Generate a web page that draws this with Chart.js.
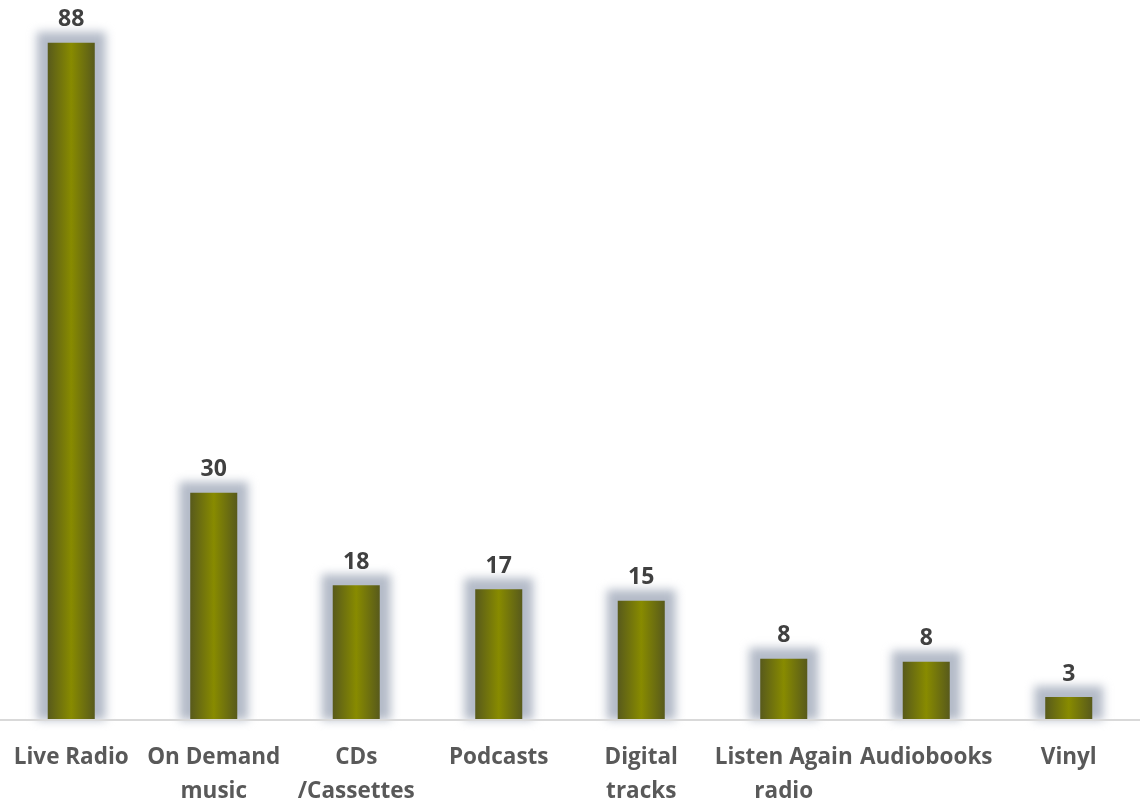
<!DOCTYPE html>
<html>
<head>
<meta charset="utf-8">
<script src="https://cdn.jsdelivr.net/npm/chart.js@4/dist/chart.umd.min.js"></script>
<style>
  html, body { margin: 0; padding: 0; background: #fff; }
  #chart { display: block; }
</style>
</head>
<body>
<canvas id="chart" width="1140" height="803"></canvas>
<script>
/* Listening share by medium — olive bars with a soft blue-grey glow */
const categories = [
  'Live Radio',
  ['On Demand', 'music'],
  ['CDs', '/Cassettes'],
  'Podcasts',
  ['Digital', 'tracks'],
  ['Listen Again', 'radio'],
  'Audiobooks',
  'Vinyl'
];
const values = [88.5, 29.7, 17.6, 17.1, 15.6, 8.0, 7.6, 3.0];
const valueLabels = ['88', '30', '18', '17', '15', '8', '8', '3'];

const BAR_HALF = 24;
const FONT = '"Open Sans", Lato, sans-serif';

// horizontal olive gradient: dark at the edges, brighter in the middle
function barFill(ctx) {
  const chart = ctx.chart;
  if (!chart.chartArea) return '#7a7d00';
  const x = chart.scales.x.getPixelForValue(ctx.dataIndex);
  const g = chart.ctx.createLinearGradient(x - BAR_HALF, 0, x + BAR_HALF, 0);
  g.addColorStop(0, '#57591c');
  g.addColorStop(0.5, '#888b00');
  g.addColorStop(1, '#57591c');
  return g;
}

const glowPlugin = {
  id: 'glow',
  beforeDatasetsDraw(chart) {
    // blurred grey-blue halo behind each bar
    const c = chart.ctx;
    const meta = chart.getDatasetMeta(0);
    c.save();
    c.filter = 'blur(5px)';
    c.fillStyle = 'rgba(172, 180, 194, 0.9)';
    meta.data.forEach(bar => {
      const w = bar.width;
      c.fillRect(bar.x - w / 2 - 11, bar.y - 11, w + 22, bar.base - bar.y + 11);
    });
    c.restore();
  },
  afterDatasetsDraw(chart) {
    // value labels above each bar
    const c = chart.ctx;
    const meta = chart.getDatasetMeta(0);
    c.save();
    c.font = 'bold 23px ' + FONT;
    c.fillStyle = '#404040';
    c.textAlign = 'center';
    c.textBaseline = 'middle';
    meta.data.forEach((bar, i) => {
      c.fillText(valueLabels[i], bar.x, bar.y - 23);
    });
    c.restore();
  }
};

new Chart(document.getElementById('chart'), {
  type: 'bar',
  data: {
    labels: categories,
    datasets: [{
      data: values,
      backgroundColor: barFill,
      borderWidth: 0,
      barPercentage: 0.66,
      categoryPercentage: 0.5
    }]
  },
  options: {
    responsive: false,
    animation: false,
    layout: { padding: 0 },
    plugins: {
      legend: { display: false },
      tooltip: { enabled: false }
    },
    scales: {
      x: {
        grid: { display: false, drawTicks: false },
        border: { color: '#d9d9d9', width: 2, z: 1 },
        ticks: {
          color: '#595959',
          font: { family: FONT, size: 22.5, weight: 'bold', lineHeight: 1.5 },
          padding: 21,
          maxRotation: 0,
          autoSkip: false
        },
        afterFit(scale) {
          scale.height = 83;
          scale.paddingLeft = 0;
          scale.paddingRight = 0;
        }
      },
      y: {
        display: false,
        min: 0,
        max: 94.1
      }
    }
  },
  plugins: [glowPlugin]
});
</script>
</body>
</html>
